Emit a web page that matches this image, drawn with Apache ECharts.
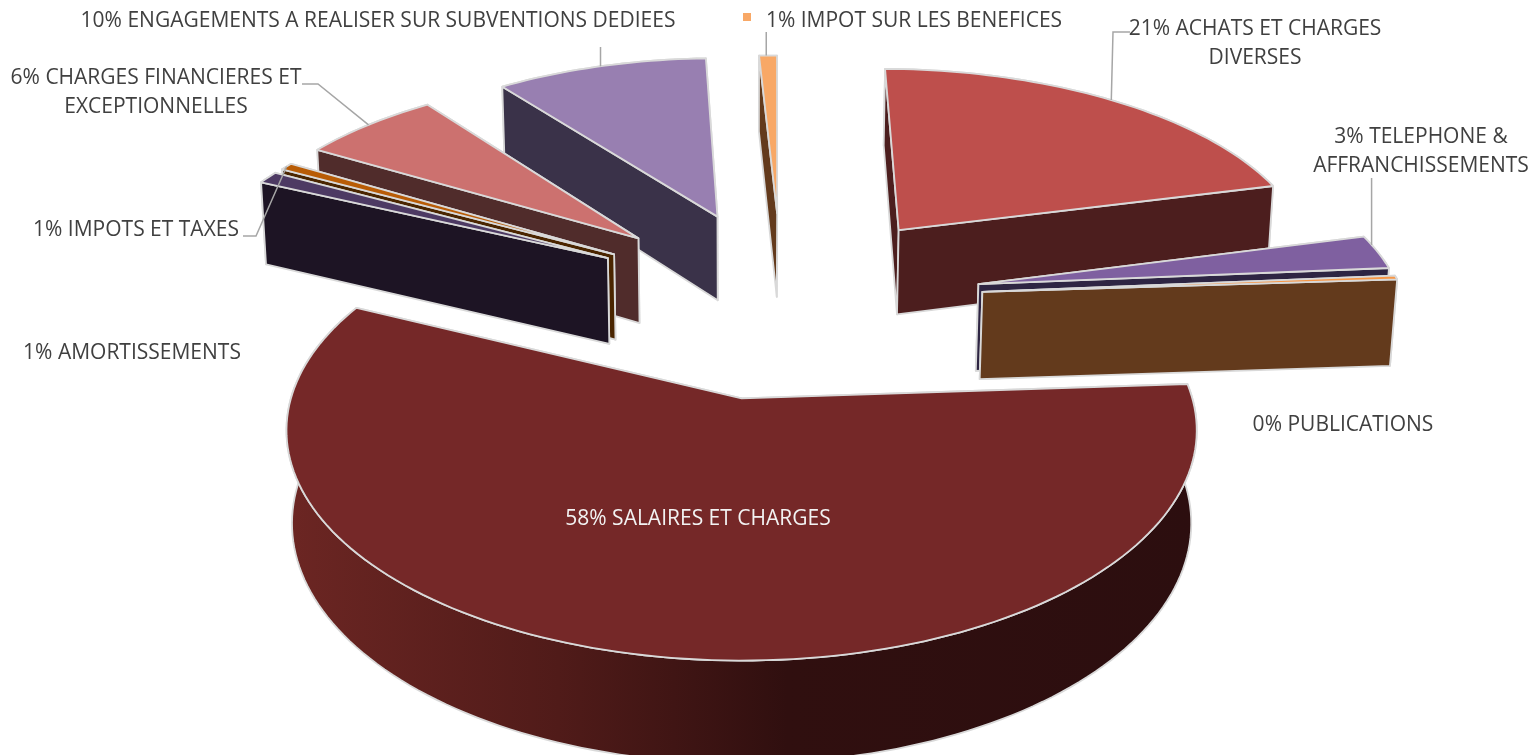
<!DOCTYPE html>
<html><head><meta charset="utf-8">
<style>html,body{margin:0;padding:0;background:#fff}#c{width:1533px;height:755px}</style>
<script src="https://cdn.jsdelivr.net/npm/echarts@6/dist/echarts.min.js"></script>
</head><body><div id="c"></div>
<script>
// ---- data (clockwise from the start angle) ----
const categories = ['ACHATS ET CHARGES\nDIVERSES','TELEPHONE &\nAFFRANCHISSEMENTS','PUBLICATIONS','SALAIRES ET CHARGES','AMORTISSEMENTS','IMPOTS ET TAXES','CHARGES FINANCIERES ET\nEXCEPTIONNELLES','ENGAGEMENTS A REALISER SUR SUBVENTIONS DEDIEES','IMPOT SUR LES BENEFICES'];
const values = [20.7, 2.7, 0.3, 57.75, 1.0, 0.6, 6.2, 9.5, 0.8];
// ---- styles ----
const topColors  = ['#BE4F4C','#7F60A0','#F79646','#752828','#4D3A63','#B85C06','#CC716F','#987FB1','#F8A866'];
const sideColors = ['#4C1E1E','#2E2543','#633A1C','#4A1A18','#1D1424','#4A2500','#502C2B','#3A3249','#633A1C'];
// ---- layout ----
const labelCenters = [[1255,44],[1421,152],[1343,425],[698,519],[132,353],[136,230],[156,93],[378,21],[914,21]];
const leaderElbows = [[[1130,32],[1113,32]],[[1372,178]],null,null,null,[[243,236],[256,236]],[[302,84],[318,84]],[[600,47]],[[768,32]]];
const verticalLeaders = [false,true,false,false,false,false,false,true,true];
const leaderFractions = [0.5,0.27,0.5,0.5,0.5,0.5,0.5,0.5,0.4];
const explodeNudges = [[0.002,-0.006],[0.004,-0.012],[0.005,-0.016],[-0.008,-0.01],[0,-0.012],[0.003,-0.012],[0,-0.016],[0.001,-0.008],[0,0]];
const legendKey = {index:8, x:747, y:17, size:8};
const FONT = '"Open Sans", sans-serif', FONT_SIZE = 21, LINE_H = 29;
const START_DEG = 0.6;
const cam = {cx:742, cy:398, A:450.6, B:225.6, C:93, k:0.139, m:0.012};
const pieCentre = {u:0.095, v:-0.452}, EXPLODE = 0.472;

const total = values.reduce((a,b)=>a+b,0);
function project(X,Y,Z){
  const w = 1 - cam.k*Y + cam.m*Z;
  return [cam.cx + cam.A*X/w, cam.cy + (cam.B*Y + cam.C*Z)/w];
}
const toRad = d => d*Math.PI/180;
let acc = START_DEG;
const slices = values.map((v,i)=>{
  const a0 = acc, a1 = acc + v/total*360; acc = a1;
  const mid = toRad((a0+a1)/2);
  const ox = pieCentre.u + EXPLODE*Math.sin(mid) + explodeNudges[i][0];
  const oy = pieCentre.v - EXPLODE*Math.cos(mid) + explodeNudges[i][1];
  return {a0,a1,mid,ox,oy};
});
const ranks = slices.map(s=>project(s.ox,s.oy,0)[1]);
const order = ranks.map((y,i)=>[y,i]).sort((a,b)=>a[0]-b[0]).map(p=>p[1]);

function rimPt(s,deg,Z){ const t=toRad(deg); return project(s.ox+Math.sin(t), s.oy-Math.cos(t), Z); }
function rimArc(s,Z){
  const n=Math.max(2,Math.ceil((s.a1-s.a0)/1.5)), pts=[];
  for(let i=0;i<=n;i++) pts.push(rimPt(s,s.a0+(s.a1-s.a0)*i/n,Z));
  return pts;
}
const STROKE = {stroke:'#d9d9d9', lineWidth:1.8, lineJoin:'round'};
function poly(points, fill, z2){ return {type:'polygon', z2, shape:{points}, style:Object.assign({fill},STROKE)}; }

function renderSlice(params, api){
  const i = params.dataIndex, s = slices[i], z = 10*(order.indexOf(i)+1);
  const top = rimArc(s,0), bot = rimArc(s,1);
  const a = project(s.ox,s.oy,0), b = project(s.ox,s.oy,1);
  const isMain = api.value(0) === Math.max.apply(null, values);
  const sideFill = isMain ? new echarts.graphic.LinearGradient(0,0,1,0,[
    {offset:0,color:'#6C2623'},{offset:0.3,color:'#501B19'},{offset:0.55,color:'#300F0F'},{offset:1,color:'#2C0E0F'}]) : sideColors[i];
  const near = Math.cos(s.mid) < 0;
  // paint the farther radial wall first so the nearer one covers it
  const y0 = -Math.cos(toRad(s.a0)), y1 = -Math.cos(toRad(s.a1));
  const wallRim = poly(top.concat(bot.slice().reverse()), sideFill, z + (near?4:1));
  const w0 = poly([a,top[0],bot[0],b], sideColors[i], z + (y0<y1?2:3));
  const w1 = poly([a,top[top.length-1],bot[bot.length-1],b], sideColors[i], z + (y0<y1?3:2));
  const face = poly([a].concat(top), topColors[i], z+5);
  const children = [wallRim,w0,w1,face];

  const pct = Math.round(api.value(0)/total*100)+'% ';
  const c = labelCenters[i];
  children.push({type:'text', z2:500, x:c[0], y:c[1], style:{
    text:pct+categories[i], fill:isMain?'#F2F2F2':'#404040', font:FONT_SIZE+'px '+FONT,
    align:'center', verticalAlign:'middle', lineHeight:LINE_H}});
  if(leaderElbows[i]){
    const end = rimPt(s,s.a0+(s.a1-s.a0)*leaderFractions[i],0);
    const pts = leaderElbows[i].map(p=>p.slice());
    if(verticalLeaders[i]) pts[pts.length-1][0] = end[0];
    children.push({type:'polyline', z2:400, shape:{points:pts.concat([end])},
      style:{fill:null, stroke:'#A6A6A6', lineWidth:1.5}});
  }
  if(legendKey.index===i){
    children.push({type:'rect', z2:500, shape:{x:legendKey.x-legendKey.size/2,y:legendKey.y-legendKey.size/2,width:legendKey.size,height:legendKey.size},
      style:{fill:topColors[i]}});
  }
  return {type:'group', children};
}
const chart = echarts.init(document.getElementById('c'), null, {renderer:'canvas'});
chart.setOption({
  animation:false, backgroundColor:'#fff',
  series:[{type:'custom', coordinateSystem:'none', silent:true, clip:false,
    data:values.map(v=>[v]), encode:{value:0}, renderItem:renderSlice}]
});
</script></body></html>
